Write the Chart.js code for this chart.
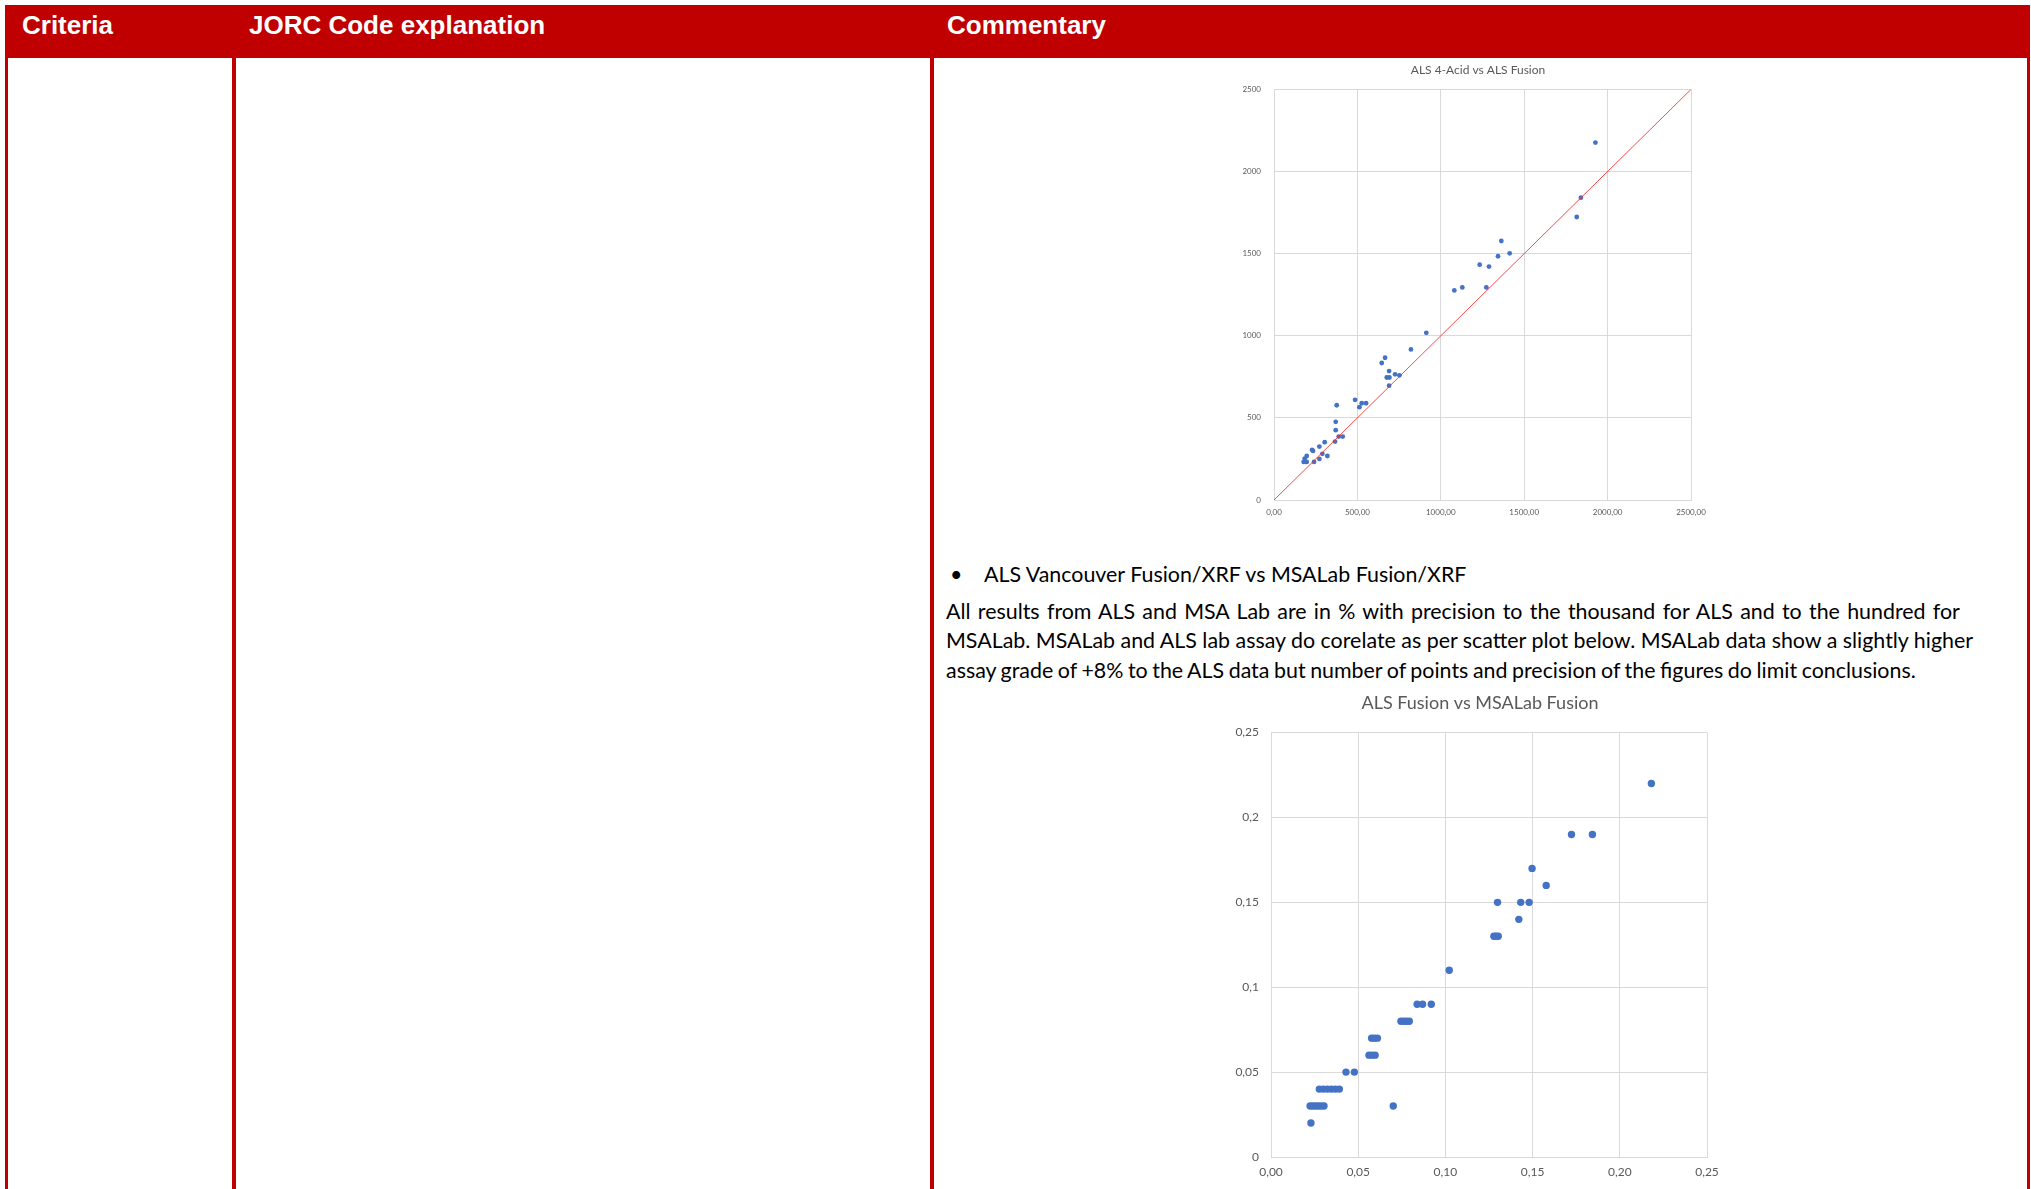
<!DOCTYPE html>
<html>
<head>
<meta charset="utf-8">
<script src="https://cdn.jsdelivr.net/npm/chart.js@4.4.1/dist/chart.umd.min.js"></script>
<style>
  html, body { margin: 0; padding: 0; background: #fff; }
  body { width: 2031px; height: 1189px; position: relative; overflow: hidden; }
  .abs { position: absolute; }
  .red { background: #c00000; }
  .hdr { position: absolute; top: 10px; height: 53px; line-height: 53px; color: #fff;
         font: bold 26px "Liberation Sans", Arial, sans-serif; white-space: nowrap; }
  .txt { position: absolute; white-space: nowrap; color: #000; line-height: 20px;
         font-family: Lato, "Open Sans", sans-serif; font-size: 21.4px; }
  .chartbox { position: absolute; }
</style>
</head>
<body>
<!-- table frame -->
<div class="abs red" style="left:5px;top:5px;width:2025px;height:53px;"></div>
<div class="abs red" style="left:5px;top:5px;width:3px;height:1184px;"></div>
<div class="abs red" style="left:232px;top:5px;width:4px;height:1184px;"></div>
<div class="abs red" style="left:930px;top:5px;width:4px;height:1184px;"></div>
<div class="abs red" style="left:2027px;top:5px;width:3px;height:1184px;"></div>
<div class="abs" style="left:0;top:0;width:2031px;height:58px;overflow:hidden;">
  <div class="hdr" style="left:22px;">Criteria</div>
  <div class="hdr" style="left:249px;">JORC Code explanation</div>
  <div class="hdr" style="left:947px;">Commentary</div>
</div>

<!-- chart 1 -->
<div class="chartbox" style="left:1160px;top:45px;width:640px;height:485px;">
  <canvas id="c1" width="640" height="485"></canvas>
</div>

<!-- text -->
<div class="txt" style="left:950px;top:564px;">•</div>
<div class="txt" style="left:984px;top:564px;">ALS Vancouver Fusion/XRF vs MSALab Fusion/XRF</div>
<div class="txt" style="left:946px;top:601px;word-spacing:1.8px;">All results from ALS and MSA Lab are in % with precision to the thousand for ALS and to the hundred for</div>
<div class="txt" style="left:946px;top:630px;">MSALab. MSALab and ALS lab assay do corelate as per scatter plot below. MSALab data show a slightly higher</div>
<div class="txt" style="left:946px;top:660px;word-spacing:-0.9px;">assay grade of +8% to the ALS data but number of points and precision of the figures do limit conclusions.</div>

<!-- chart 2 -->
<div class="chartbox" style="left:1160px;top:690px;width:640px;height:499px;">
  <canvas id="c2" width="640" height="499"></canvas>
</div>

<script>
// ---------- Chart 1 data: ALS 4-Acid vs ALS Fusion ----------
const chart1Title = "ALS 4-Acid vs ALS Fusion";
const alsFusionX = [178,188,196,184,196,228,234,240,272,272,290,304,320,366,370,370,376,388,412,486,512,526,552,646,666,676,692,690,690,726,752,821,913,1081,1129,1273,1233,1289,1343,1363,1413,1815,1840,1927];
const als4AcidY  = [232,232,232,252,268,305,299,232,250,325,281,352,268,356,425,476,577,386,386,610,565,589,589,834,866,746,746,785,696,765,759,917,1018,1276,1294,1294,1433,1421,1484,1577,1502,1723,1841,2176];
const parityLineX = [0, 2500];
const parityLineY = [0, 2500];
const chart1XTicks = ["0,00","500,00","1000,00","1500,00","2000,00","2500,00"];
const chart1YTicks = ["0","500","1000","1500","2000","2500"];

// ---------- Chart 2 data: ALS Fusion vs MSALab Fusion ----------
const chart2Title = "ALS Fusion vs MSALab Fusion";
const alsFusionPct = [0.0229,
  0.0224,0.0240,0.0256,0.0272,0.0288,0.0304,0.0701,
  0.0277,0.0300,0.0323,0.0346,0.0369,0.0392,
  0.0430,0.0478,
  0.0562,0.0579,0.0597,
  0.0577,0.0592,0.0610,
  0.0745,0.0760,0.0776,0.0793,
  0.0838,0.0869,0.0919,
  0.1022,
  0.1278,0.1290,0.1303,
  0.1421,
  0.1299,0.1432,0.1480,
  0.1578,
  0.1497,
  0.1723,0.1843,
  0.2181];
const msaLabFusionPct = [0.02,
  0.03,0.03,0.03,0.03,0.03,0.03,0.03,
  0.04,0.04,0.04,0.04,0.04,0.04,
  0.05,0.05,
  0.06,0.06,0.06,
  0.07,0.07,0.07,
  0.08,0.08,0.08,0.08,
  0.09,0.09,0.09,
  0.11,
  0.13,0.13,0.13,
  0.14,
  0.15,0.15,0.15,
  0.16,
  0.17,
  0.19,0.19,
  0.22];
const chart2XTicks = ["0,00","0,05","0,10","0,15","0,20","0,25"];
const chart2YTicks = ["0","0,05","0,1","0,15","0,2","0,25"];

const zip = (xs, ys) => xs.map((x, i) => ({ x: x, y: ys[i] }));
const FONT = 'Lato, "Open Sans", sans-serif';
const GRID = '#d9d9d9';
const LABEL = '#595959';
const BLUE = '#4472c4';

// an empty right-hand spacer scale so the title centres over the plot like the original
function spacer(width) {
  return { type: 'linear', position: 'right', display: true, min: 0, max: 1,
           afterFit: s => { s.width = width; },
           grid: { display: false }, border: { display: false }, ticks: { display: false } };
}

// Chart 1
new Chart(document.getElementById('c1'), {
  type: 'scatter',
  data: {
    datasets: [
      { data: zip(parityLineX, parityLineY), showLine: true, borderColor: 'rgba(255,40,40,0.85)',
        borderWidth: 1, pointRadius: 0, fill: false },
      { data: zip(alsFusionX, als4AcidY), backgroundColor: BLUE, borderColor: BLUE,
        pointRadius: 2.4, borderWidth: 0 }
    ]
  },
  options: {
    responsive: false, animation: false, devicePixelRatio: 1,
    layout: { padding: { left: 0, right: 4, top: 0, bottom: 0 } },
    plugins: {
      legend: { display: false }, tooltip: { enabled: false },
      title: { display: true, text: chart1Title, color: LABEL,
               font: { family: FONT, size: 12, weight: 'normal' },
               padding: { top: 18, bottom: 12 } }
    },
    scales: {
      x: { type: 'linear', min: 0, max: 2500,
           afterFit: s => { s.height = 30; },
           grid: { color: GRID, drawTicks: false, lineWidth: 1 },
           border: { color: GRID },
           ticks: { stepSize: 500, padding: 8, color: LABEL, font: { family: FONT, size: 8 },
                    maxRotation: 0,
                    callback: function (v) { return chart1XTicks[Math.round(v / 500)]; } } },
      y: { type: 'linear', min: 0, max: 2500,
           afterFit: s => { s.width = 114; },
           grid: { color: GRID, drawTicks: false, lineWidth: 1 },
           border: { color: GRID },
           ticks: { stepSize: 500, padding: 13, color: LABEL, font: { family: FONT, size: 8 },
                    callback: function (v) { return chart1YTicks[Math.round(v / 500)]; } } },
      yr: spacer(105)
    }
  }
});

// Chart 2
new Chart(document.getElementById('c2'), {
  type: 'scatter',
  data: {
    datasets: [
      { data: zip(alsFusionPct, msaLabFusionPct), backgroundColor: BLUE, borderColor: BLUE,
        pointRadius: 3.7, borderWidth: 0 }
    ]
  },
  options: {
    responsive: false, animation: false, devicePixelRatio: 1,
    layout: { padding: { left: 0, right: 0, top: 0, bottom: 0 } },
    plugins: {
      legend: { display: false }, tooltip: { enabled: false },
      title: { display: true, text: chart2Title, color: LABEL,
               font: { family: FONT, size: 18, weight: 'normal' },
               padding: { top: 2, bottom: 19 } }
    },
    scales: {
      x: { type: 'linear', min: 0, max: 0.25,
           afterFit: s => { s.height = 32; },
           grid: { color: GRID, drawTicks: false, lineWidth: 1 },
           border: { color: GRID },
           ticks: { stepSize: 0.05, padding: 8, color: LABEL, font: { family: FONT, size: 12 },
                    maxRotation: 0,
                    callback: function (v) { return chart2XTicks[Math.round(v / 0.05)]; } } },
      y: { type: 'linear', min: 0, max: 0.25,
           afterFit: s => { s.width = 111; },
           grid: { color: GRID, drawTicks: false, lineWidth: 1 },
           border: { color: GRID },
           ticks: { stepSize: 0.05, padding: 12, color: LABEL, font: { family: FONT, size: 12 },
                    callback: function (v) { return chart2YTicks[Math.round(v / 0.05)]; } } },
      yr: spacer(93)
    }
  }
});
</script>
</body>
</html>
